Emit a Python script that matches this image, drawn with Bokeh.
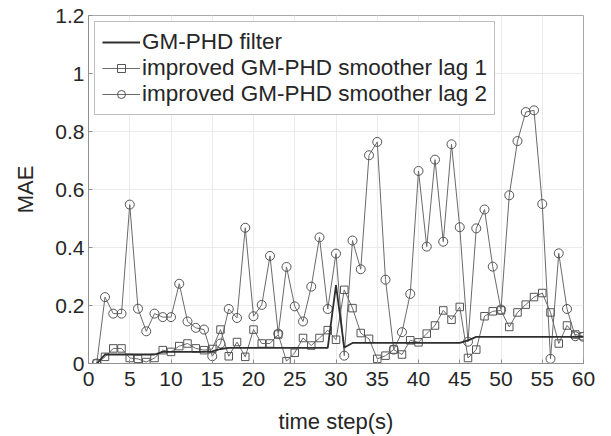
from bokeh.plotting import figure
from bokeh.models import Legend, LegendItem, FixedTicker, Range1d
from bokeh.embed import file_html
from bokeh.resources import INLINE

time_steps = list(range(1, 61))

gm_phd_filter = [
    0.0, 0.031, 0.031, 0.031, 0.031, 0.031, 0.031, 0.031, 0.040, 0.040,
    0.040, 0.040, 0.040, 0.040, 0.042, 0.050, 0.054, 0.054, 0.054, 0.054,
    0.054, 0.054, 0.054, 0.054, 0.054, 0.054, 0.054, 0.054, 0.054, 0.270,
    0.055, 0.071, 0.071, 0.071, 0.071, 0.071, 0.071, 0.071, 0.071, 0.071,
    0.071, 0.071, 0.071, 0.071, 0.071, 0.080, 0.092, 0.092, 0.092, 0.092,
    0.092, 0.092, 0.092, 0.092, 0.092, 0.092, 0.092, 0.092, 0.092, 0.092,
]

smoother_lag1 = [
    0.0, 0.023, 0.052, 0.052, 0.019, 0.016, 0.005, 0.019, 0.046, 0.040,
    0.060, 0.069, 0.052, 0.046, 0.050, 0.117, 0.025, 0.074, 0.023, 0.117,
    0.069, 0.069, 0.100, 0.008, 0.037, 0.088, 0.062, 0.088, 0.115, 0.082,
    0.254, 0.191, 0.105, 0.085, 0.016, 0.027, 0.048, 0.031, 0.080, 0.073,
    0.103, 0.131, 0.183, 0.151, 0.195, 0.019, 0.048, 0.163, 0.180, 0.183,
    0.126, 0.176, 0.203, 0.229, 0.243, 0.176, 0.069, 0.131, 0.100, 0.094,
]

smoother_lag2 = [
    0.0, 0.229, 0.172, 0.172, 0.548, 0.189, 0.111, 0.172, 0.160, 0.160,
    0.275, 0.145, 0.123, 0.117, 0.025, 0.069, 0.188, 0.157, 0.468, 0.163,
    0.202, 0.371, 0.103, 0.333, 0.197, 0.145, 0.265, 0.435, 0.188, 0.379,
    0.027, 0.424, 0.325, 0.718, 0.764, 0.289, 0.048, 0.108, 0.240, 0.664,
    0.403, 0.703, 0.420, 0.756, 0.470, 0.075, 0.466, 0.531, 0.334, 0.186,
    0.580, 0.767, 0.867, 0.873, 0.550, 0.016, 0.380, 0.188, 0.094, 0.092,
]

x_ticks = [0, 5, 10, 15, 20, 25, 30, 35, 40, 45, 50, 55, 60]
y_ticks = [0, 0.2, 0.4, 0.6, 0.8, 1.0, 1.2]
y_tick_labels = ["0", "0.2", "0.4", "0.6", "0.8", "1", "1.2"]

series_names = [
    "GM-PHD filter",
    "improved GM-PHD smoother lag 1",
    "improved GM-PHD smoother lag 2",
]

FONT = "Liberation Sans"
TEXT = "#262626"

p = figure(
    width=611, height=436,
    x_range=Range1d(0, 60), y_range=Range1d(0, 1.2),
    output_backend="svg", toolbar_location=None,
    min_border_left=88, min_border_right=28,
    min_border_top=15, min_border_bottom=72,
    x_axis_label="time step(s)", y_axis_label="MAE",
)
p.background_fill_color = "white"
p.border_fill_color = "white"
p.outline_line_color = "#a8a8a8"
p.outline_line_width = 1

for ax in (p.xaxis[0], p.yaxis[0]):
    ax.axis_line_color = "#909090"
    ax.major_tick_line_color = "#909090"
    ax.major_tick_in = 4
    ax.major_tick_out = 0
    ax.minor_tick_line_color = None
    ax.major_label_text_font = FONT
    ax.major_label_text_font_size = "21px"
    ax.major_label_text_color = TEXT
    ax.axis_label_text_font = FONT
    ax.axis_label_text_font_size = "22px"
    ax.axis_label_text_font_style = "normal"
    ax.axis_label_text_color = TEXT

p.xaxis.ticker = FixedTicker(ticks=x_ticks)
p.yaxis.ticker = FixedTicker(ticks=y_ticks)
p.yaxis.major_label_overrides = {t: l for t, l in zip(y_ticks, y_tick_labels)}
p.xaxis.major_label_standoff = 8
p.yaxis.major_label_standoff = 4
p.xaxis.axis_label_standoff = 20
p.yaxis.axis_label_standoff = 14

p.xgrid.ticker = FixedTicker(ticks=x_ticks)
p.ygrid.ticker = FixedTicker(ticks=y_ticks)
p.grid.grid_line_color = "#ebebeb"
p.grid.grid_line_width = 1

line_gray = "#6a6a6a"

l2_line = p.line(time_steps, smoother_lag2, line_color=line_gray, line_width=1)
l2_pts = p.scatter(time_steps, smoother_lag2, marker="circle", size=9,
                   fill_color=None, line_color="#555555", line_width=1)

l1_line = p.line(time_steps, smoother_lag1, line_color=line_gray, line_width=1)
l1_pts = p.scatter(time_steps, smoother_lag1, marker="square", size=7.5,
                   fill_color=None, line_color="#555555", line_width=1)

f_line = p.line(time_steps, gm_phd_filter, line_color="#2e2e2e", line_width=1.8)

legend = Legend(
    items=[
        LegendItem(label=series_names[0], renderers=[f_line]),
        LegendItem(label=series_names[1], renderers=[l1_line, l1_pts]),
        LegendItem(label=series_names[2], renderers=[l2_line, l2_pts]),
    ],
    location="top_left",
    margin=6,
    padding=7,
    spacing=0,
    glyph_width=38,
    glyph_height=20,
    label_height=20,
    label_standoff=2,
    label_text_font=FONT,
    label_text_font_size="22.5px",
    label_text_color=TEXT,
    border_line_color="#808080",
    border_line_width=1,
    background_fill_color="white",
    background_fill_alpha=1.0,
)
p.add_layout(legend)

open("out.html", "w").write(file_html(p, INLINE))
